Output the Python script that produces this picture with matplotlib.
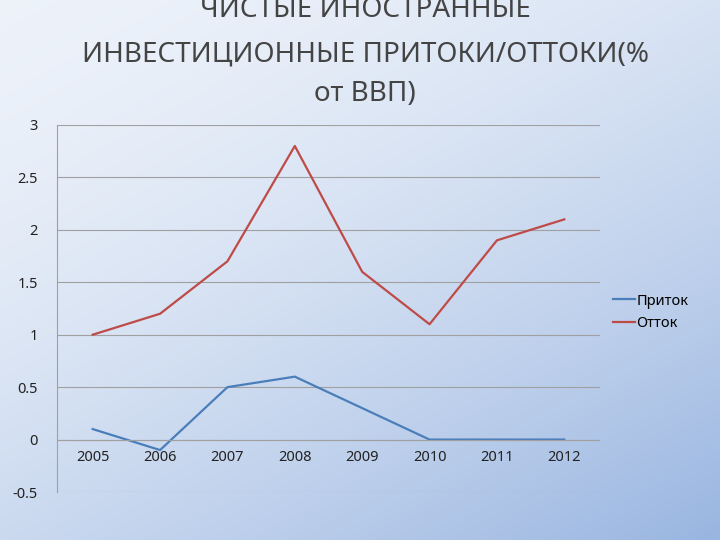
import matplotlib
matplotlib.use("Agg")
import matplotlib.pyplot as plt
import numpy as np

years = ["2005", "2006", "2007", "2008", "2009", "2010", "2011", "2012"]
inflow = [0.1, -0.1, 0.5, 0.6, 0.3, 0.0, 0.0, 0.0]
outflow = [1.0, 1.2, 1.7, 2.8, 1.6, 1.1, 1.9, 2.1]
yticks = [-0.5, 0, 0.5, 1, 1.5, 2, 2.5, 3]
ylabels = ["-0.5", "0", "0.5", "1", "1.5", "2", "2.5", "3"]

plt.rcParams['font.family'] = ['Noto Sans', 'DejaVu Sans']
fig = plt.figure(figsize=(7.2, 5.4), dpi=100)

bg = fig.add_axes([0, 0, 1, 1], zorder=-10)
xx, yy = np.meshgrid(np.linspace(0, 1, 200), np.linspace(0, 1, 200))
t = np.clip((xx * 0.6 + yy * 0.8) / 1.4, 0, 1) ** 1.6
c0 = np.array([0.93, 0.95, 0.98]); c1 = np.array([0.60, 0.71, 0.88])
img = c0[None, None, :] * (1 - t[..., None]) + c1[None, None, :] * t[..., None]
bg.imshow(img, extent=[0, 1, 0, 1], aspect='auto')
bg.axis('off')

ax = fig.add_axes([57/720, 1-492/540, (600-57)/720, (492-125)/540])
ax.patch.set_alpha(0)
x = np.arange(len(years))
ax.plot(x, inflow, color='#4a7ebb', lw=1.6, label='Приток')
ax.plot(x, outflow, color='#be4b48', lw=1.6, label='Отток')
ax.set_xlim(-0.53, len(years) - 0.47)
ax.set_ylim(-0.5, 3)
ax.set_yticks(yticks)
ax.set_yticklabels(ylabels, fontsize=10.5, color='#222222')
ax.grid(axis='y', color='#a0a0a0', lw=0.8)
ax.set_xticks([])
for i, yl in enumerate(years):
    ax.text(i, -0.1, yl, ha='center', va='top', fontsize=10.5, color='#222222')
for s in ['top', 'right', 'bottom']:
    ax.spines[s].set_visible(False)
ax.spines['left'].set_color('#a0a0a0')
ax.axhline(0, color='#a0a0a0', lw=0.8)
ax.tick_params(axis='y', length=0, pad=14)
ax.legend(loc='center left', bbox_to_anchor=(1.0, 0.49), frameon=False,
          fontsize=10.5, handlelength=1.5, handletextpad=0.1)

for ytxt, s in [(10, "ЧИСТЫЕ ИНОСТРАННЫЕ"), (55, "ИНВЕСТИЦИОННЫЕ ПРИТОКИ/ОТТОКИ(%"), (94, "от ВВП)")]:
    fig.text(365/720, 1-ytxt/540, s, ha='center', va='center', fontsize=20, color='#444444')

fig.savefig("out.png", dpi=100)
